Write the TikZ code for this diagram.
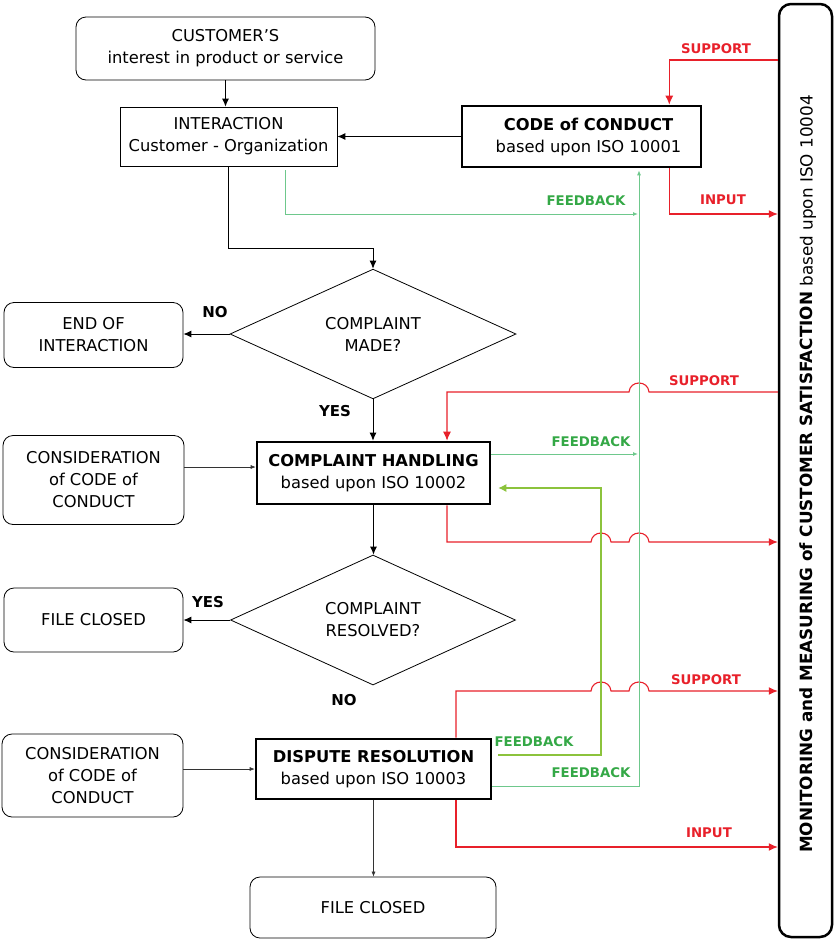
\documentclass[tikz,border=0pt]{standalone}
\usepackage{fontspec}
\setmainfont{DejaVu Sans}
\usetikzlibrary{arrows.meta,shapes.geometric,calc}
\definecolor{myred}{RGB}{232,32,42}
\definecolor{fbtext}{RGB}{52,168,70}
\definecolor{fbline}{RGB}{110,200,140}
\definecolor{limeg}{RGB}{140,195,60}
\begin{document}
\begin{tikzpicture}[x=1pt,y=-1pt,
  box/.style={draw, line width=0.8pt, inner sep=0pt, align=center, font=\fontsize{16.3}{22}\selectfont},
  rbox/.style={box, rounded corners=10pt},
  tbox/.style={box, line width=2.6pt},
  dec/.style={draw, diamond, line width=0.8pt, inner sep=0pt, align=center, font=\fontsize{16.3}{22}\selectfont},
  flow/.style={line width=0.9pt, -{Latex[length=8pt,width=7pt]}},
  thinarr/.style={line width=0.6pt, draw=black!80, -{Latex[length=5pt,width=4pt]}},
  redarr/.style={draw=myred, line width=1.1pt, -{Latex[length=9pt,width=8pt]}},
  grn/.style={draw=fbline, line width=1pt, -{Latex[length=5pt,width=4pt]}},
  lim/.style={draw=limeg, line width=1.1pt, -{Latex[length=8pt,width=8pt]}},
  lab/.style={inner sep=0pt, font=\bfseries\fontsize{13.3}{15}\selectfont},
  redlab/.style={lab, text=myred},
  grnlab/.style={lab, text=fbtext},
  yn/.style={inner sep=0pt, font=\bfseries\fontsize{15}{17}\selectfont}]
\useasboundingbox (0,0) rectangle (835,940);

% main boxes
\node[rbox, minimum width=299pt, minimum height=63pt] (cust) at (225.5,48.5) {CUSTOMER’S\\interest in product or service};
\node[box, minimum width=217pt, minimum height=59pt] (inter) at (228.5,136.5) {INTERACTION\\Customer - Organization};
\node[tbox, minimum width=239pt, minimum height=61pt] (code) at (581.5,136.5) {\hspace*{14pt}\textbf{CODE of CONDUCT}\\\hspace*{14pt}based upon ISO 10001};
\node[dec, minimum width=286pt, minimum height=126pt] (made) at (373,334) {COMPLAINT\\MADE?};
\node[rbox, minimum width=179pt, minimum height=65pt] (endi) at (93.5,335) {END OF\\INTERACTION};
\node[tbox, minimum width=233pt, minimum height=62pt] (ch) at (373.5,473) {\textbf{COMPLAINT HANDLING}\\based upon ISO 10002};
\node[rbox, minimum width=181pt, minimum height=89pt] (cons1) at (93.5,480) {CONSIDERATION\\of CODE of\\CONDUCT};
\node[dec, minimum width=285pt, minimum height=128pt] (res) at (373,620) {COMPLAINT\\RESOLVED?};
\node[rbox, minimum width=179pt, minimum height=64pt] (fc1) at (93.5,620) {FILE CLOSED};
\node[tbox, minimum width=235pt, minimum height=60pt] (dr) at (373.5,769) {\textbf{DISPUTE RESOLUTION}\\based upon ISO 10003};
\node[rbox, minimum width=181pt, minimum height=83pt] (cons2) at (92.5,775.5) {CONSIDERATION\\of CODE of\\CONDUCT};
\node[rbox, minimum width=246pt, minimum height=61pt] (fc2) at (373,907.5) {FILE CLOSED};

% right bar
\node[draw, line width=2.5pt, rounded corners=12pt, minimum width=53pt, minimum height=933pt, inner sep=0pt] (bar) at (805.5,470.5) {};
\node[rotate=90, inner sep=0pt, font=\fontsize{16.8}{20}\selectfont] (bartxt) at (808,474) {\textbf{MONITORING and MEASURING of CUSTOMER SATISFACTION} based upon ISO 10004};

% helper coordinates
\coordinate (ySup1) at (0,60);
\coordinate (yIn1) at (0,214);
\coordinate (ySup2) at (0,392);
\coordinate (yIn2) at (0,542);
\coordinate (ySup3) at (0,691);
\coordinate (yIn3) at (0,847);
\coordinate (gx) at (639,0);
\coordinate (lx) at (601,0);
\coordinate (j1) at (373,248);

% black flow
\draw[flow] (cust.south) -- (cust.south |- inter.north);
\draw[flow] (code.west) -- (inter.east);
\draw[flow] (inter.south) |- (j1) -- (made.north);
\draw[flow] (made.west) -- (made.west -| endi.east);
\draw[flow] (made.south) -- (made.south |- ch.north);
\draw[thinarr] ([yshift=13pt]cons1.east) -- ([yshift=13pt]cons1.east -| ch.west);
\draw[flow] (ch.south) -- (ch.south |- res.north);
\draw[flow] (res.west) -- (res.west -| fc1.east);
\draw[thinarr] (cons2.east |- dr.west) -- (dr.west);
\draw[thinarr] (dr.south) -- (dr.south |- fc2.north);

% red connectors
\draw[redarr] (bar.west |- ySup1) -| ([xshift=-33pt]code.north east);
\draw[redarr] ([xshift=-33pt]code.south east) |- (bar.west |- yIn1);
\draw[redarr] (bar.west |- ySup2) -- (649,392) .. controls +(-1,-12) and +(1,-12) .. (629,392) -| ([xshift=73.5pt]ch.north);
\draw[redarr] ([xshift=73.5pt]ch.south) |- (591,542) .. controls +(1,-12) and +(-1,-12) .. (611,542) -- (629,542) .. controls +(1,-12) and +(-1,-12) .. (649,542) -- (bar.west |- yIn2);
\draw[redarr] ([xshift=82.5pt]dr.north) |- (591,691) .. controls +(1,-12) and +(-1,-12) .. (611,691) -- (629,691) .. controls +(1,-12) and +(-1,-12) .. (649,691) -- (bar.west |- ySup3);
\draw[redarr] ([xshift=82.5pt]dr.south) |- (bar.west |- yIn3);

% green connectors
\coordinate (ints) at ([xshift=56.5pt,yshift=-4pt]inter.south);
\draw[grn, shorten >=1pt] (ints) |- (gx |- yIn1);
\draw[grn, shorten >=2pt] ([yshift=-17pt]dr.east) -| (gx |- code.south);
\coordinate (chf) at ([yshift=19pt]ch.east);
\draw[grn, shorten >=1pt] (chf) -- (chf -| gx);
\coordinate (drf1) at ([xshift=6pt,yshift=14pt]dr.east);
\coordinate (chl) at ([xshift=7pt,yshift=-15pt]ch.east);
\draw[lim] (drf1) -| (lx |- chl) -- (chl);

% labels
\node[redlab] (l1) at (716,49) {SUPPORT};
\node[redlab] (l2) at (723,200) {INPUT};
\node[grnlab] (l3) at (586,201) {FEEDBACK};
\node[redlab] (l4) at (704,381) {SUPPORT};
\node[grnlab] (l5) at (591,442) {FEEDBACK};
\node[grnlab] (l6) at (534,742) {FEEDBACK};
\node[grnlab] (l7) at (591,773) {FEEDBACK};
\node[redlab] (l8) at (706,680) {SUPPORT};
\node[redlab] (l9) at (709,833) {INPUT};
\node[yn] (n1) at (215,312) {NO};
\node[yn] (y1) at (335,411) {YES};
\node[yn] (y2) at (208,602) {YES};
\node[yn] (n2) at (344,700) {NO};
\end{tikzpicture}
\end{document}
